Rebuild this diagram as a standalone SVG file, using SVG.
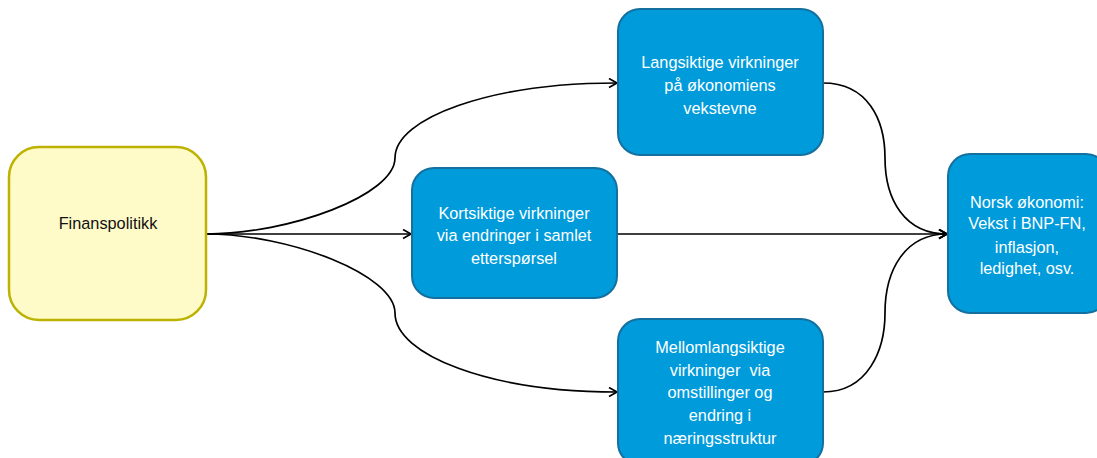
<svg xmlns="http://www.w3.org/2000/svg" width="1097" height="458" viewBox="0 0 1097 458">
<style>
.blue{fill:#009BDB;stroke:#13709F;stroke-width:2}
.yellow{fill:#FFFBC9;stroke:#BDB200;stroke-width:2.5}
.t{font-family:"Liberation Sans",Arial,sans-serif;font-size:16.3px;text-anchor:middle}
.w{fill:#FFFFFF}
.k{fill:#111111}
.c{fill:none;stroke:#000;stroke-width:1.7}
</style>
<defs>
<marker id="arr" markerWidth="12" markerHeight="12" refX="9" refY="5" orient="auto" markerUnits="userSpaceOnUse">
<path d="M1,0.5 L9,5 L1,9.5" fill="none" stroke="#000" stroke-width="1.7"/>
</marker>
</defs>
<rect width="1097" height="458" fill="#FFFFFF"/>
<g id="connectors">
<path class="c" d="M206,234 C290,234 395,195 395,158 C395,118 490,83 617,83" marker-end="url(#arr)"/>
<path class="c" d="M206,234 L411,234" marker-end="url(#arr)"/>
<path class="c" d="M206,234 C290,234 395,275 395,313 C395,355 490,392 617,392" marker-end="url(#arr)"/>
<path class="c" d="M823,83 C868,83 885,120 885,158 C885,200 905,234 947,234" marker-end="url(#arr)"/>
<path class="c" d="M617,234 L947,234" marker-end="url(#arr)"/>
<path class="c" d="M823,392 C868,392 885,350 885,313 C885,270 905,234 947,234" marker-end="url(#arr)"/>
</g>
<g id="finanspolitikk">
<rect class="yellow" x="9" y="147" width="197" height="173" rx="30"/>
<text class="t k" x="108" y="229">Finanspolitikk</text>
</g>
<g id="langsiktige">
<rect class="blue" x="618" y="9" width="205" height="146" rx="22"/>
<text class="t w" x="720" y="68">Langsiktige virkninger</text>
<text class="t w" x="720" y="91">på økonomiens</text>
<text class="t w" x="720" y="114">vekstevne</text>
</g>
<g id="kortsiktige">
<rect class="blue" x="412" y="168" width="205" height="130" rx="22"/>
<text class="t w" x="514" y="219">Kortsiktige virkninger</text>
<text class="t w" x="514" y="241">via endringer i samlet</text>
<text class="t w" x="514" y="264">etterspørsel</text>
</g>
<g id="mellomlangsiktige">
<rect class="blue" x="618" y="319" width="205" height="146" rx="22"/>
<text class="t w" x="720" y="353">Mellomlangsiktige</text>
<text class="t w" x="720" y="376">virkninger&#160; via</text>
<text class="t w" x="720" y="398">omstillinger og</text>
<text class="t w" x="720" y="421">endring i</text>
<text class="t w" x="720" y="444">næringsstruktur</text>
</g>
<g id="norsk">
<rect class="blue" x="948" y="154" width="160" height="159" rx="22"/>
<text class="t w" x="1027" y="208">Norsk økonomi:</text>
<text class="t w" x="1027" y="229">Vekst i BNP-FN,</text>
<text class="t w" x="1027" y="253">inflasjon,</text>
<text class="t w" x="1027" y="274">ledighet, osv.</text>
</g>
</svg>
